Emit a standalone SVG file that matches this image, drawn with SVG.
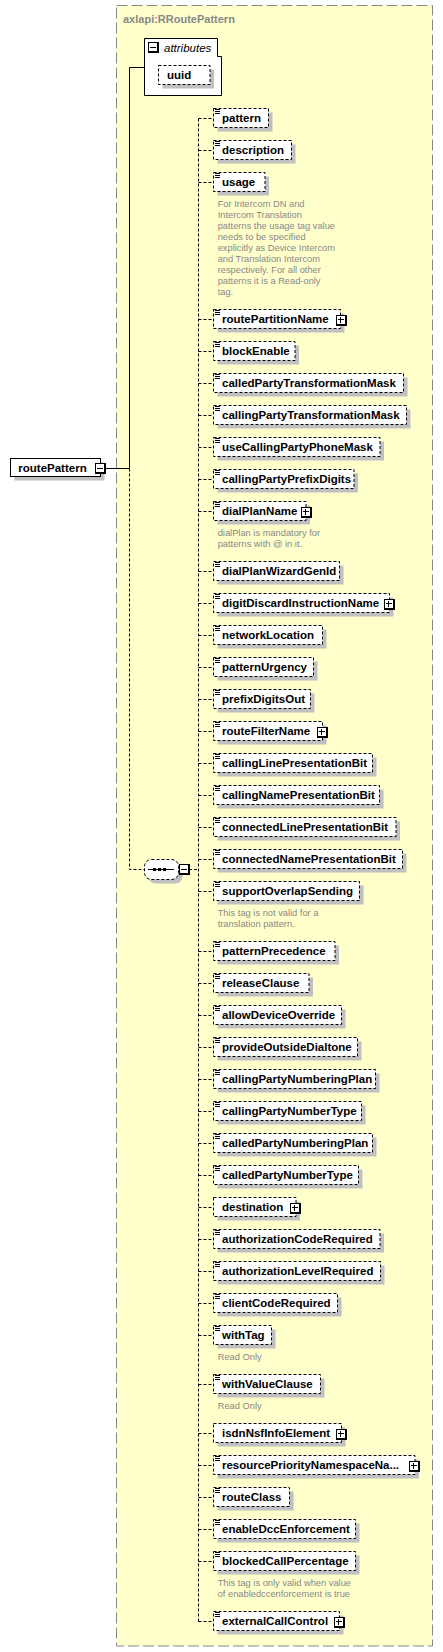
<svg xmlns="http://www.w3.org/2000/svg" width="443" height="1652" viewBox="0 0 443 1652">
<style>
.frame{fill:#ffffcc;stroke:#888;stroke-width:1;stroke-dasharray:11 4}
.title{font-family:"Liberation Sans",Arial,sans-serif;font-size:11px;font-weight:bold;fill:#888}
.sh{fill:#c0c0c0}
.el{fill:#fff;stroke:#000;stroke-width:1;stroke-dasharray:3 2}
.sol{fill:#fff;stroke:#000;stroke-width:1}
.ic{stroke:#000;stroke-width:1;fill:none}
.t{font-family:"Liberation Sans",Arial,sans-serif;font-size:11.5px;font-weight:bold;fill:#000}
.it{font-family:"Liberation Sans",Arial,sans-serif;font-size:11.5px;font-style:italic;fill:#000}
.cm{font-family:"Liberation Sans",Arial,sans-serif;font-size:9.3px;fill:#888}
.pk{fill:#000}
.pw{fill:#fff}
.ln{stroke:#000;stroke-width:1;fill:none}
.dl{stroke:#000;stroke-width:1;fill:none;stroke-dasharray:3 2}
</style>
<rect class="frame" x="116.5" y="5.5" width="316" height="1640.5"/>
<text class="title" x="123" y="22.5">axlapi:RRoutePattern</text>

<g id="connectors">
<path class="ln" d="M106 468.5H129.5M129.5 67.5V468.5M129.5 67.5H144.5"/>
<path class="dl" d="M129.5 468.5V869.5H144.5M189 869.5H198.5M198.5 118.5V1621.5"/>
<path class="dl" d="M198.5 118.5H213M198.5 150.5H213M198.5 182.5H213M198.5 319.5H213M198.5 351.5H213M198.5 383.5H213M198.5 415.5H213M198.5 447.5H213M198.5 479.5H213M198.5 511.5H213M198.5 571.5H213M198.5 603.5H213M198.5 635.5H213M198.5 667.5H213M198.5 699.5H213M198.5 731.5H213M198.5 763.5H213M198.5 795.5H213M198.5 827.5H213M198.5 859.5H213M198.5 891.5H213M198.5 951.5H213M198.5 983.5H213M198.5 1015.5H213M198.5 1047.5H213M198.5 1079.5H213M198.5 1111.5H213M198.5 1143.5H213M198.5 1175.5H213M198.5 1207.5H213M198.5 1239.5H213M198.5 1271.5H213M198.5 1303.5H213M198.5 1335.5H213M198.5 1384.5H213M198.5 1433.5H213M198.5 1465.5H213M198.5 1497.5H213M198.5 1529.5H213M198.5 1561.5H213M198.5 1621.5H213"/>
</g>

<g id="routePattern">
<rect class="sh" x="14.5" y="462.5" width="90" height="18"/>
<rect class="sol" x="10.5" y="458.5" width="90" height="18"/>
<text class="t" x="18.3" y="472">routePattern</text>
<rect class="pk" x="95" y="463" width="11" height="11"/>
<rect class="pw" x="96" y="464" width="8" height="8"/>
<path class="ic" d="M97 468.5h6"/>
</g>

<g id="attributes">
<path class="sol" d="M144.5 38.5H217.5V56.5H221.5V95.5H144.5Z"/>
<rect class="pk" x="148" y="42" width="11" height="11"/>
<rect class="pw" x="149" y="43" width="8" height="8"/>
<path class="ic" d="M150 47.5h6"/>
<text class="it" x="164" y="52">attributes</text>
</g>
<g id="uuid">
<rect class="sh" x="162.5" y="69.5" width="51.5" height="19"/>
<rect class="el" x="158.5" y="65.5" width="51.5" height="19"/>
<text class="t" x="167" y="78.5">uuid</text>
</g>

<g id="sequence">
<rect class="sh" x="148.5" y="863.5" width="34" height="20" rx="7"/>
<rect class="el" x="144.5" y="859.5" width="34" height="20" rx="7"/>
<path class="ic" d="M148 869.5H174"/>
<rect class="pk" x="153" y="868" width="3" height="3"/>
<rect class="pk" x="158" y="868" width="3" height="3"/>
<rect class="pk" x="163" y="868" width="3" height="3"/>
<rect class="pk" x="179" y="864" width="11" height="11"/>
<rect class="pw" x="180" y="865" width="8" height="8"/>
<path class="ic" d="M181 869.5h6"/>
</g>

<g id="pattern" transform="translate(0,118)"><rect class="sh" x="217.5" y="-5.5" width="55" height="19"/><rect class="el" x="213.5" y="-9.5" width="55" height="19"/><path class="ic" d="M215 -8.5h5M215 -6.5h5M215 -4.5h5"/><text class="t" x="222" y="4">pattern</text></g>
<g id="description" transform="translate(0,150)"><rect class="sh" x="217.5" y="-5.5" width="78" height="19"/><rect class="el" x="213.5" y="-9.5" width="78" height="19"/><path class="ic" d="M215 -8.5h5M215 -6.5h5M215 -4.5h5"/><text class="t" x="222" y="4">description</text></g>
<g id="usage" transform="translate(0,182)"><rect class="sh" x="217.5" y="-5.5" width="51.5" height="19"/><rect class="el" x="213.5" y="-9.5" width="51.5" height="19"/><path class="ic" d="M215 -8.5h5M215 -6.5h5M215 -4.5h5"/><text class="t" x="222" y="4">usage</text>
<text class="cm" x="217.7" y="24.5">For Intercom DN and</text>
<text class="cm" x="217.7" y="35.5">Intercom Translation</text>
<text class="cm" x="217.7" y="46.5">patterns the usage tag value</text>
<text class="cm" x="217.7" y="57.5">needs to be specified</text>
<text class="cm" x="217.7" y="68.5">explicitly as Device Intercom</text>
<text class="cm" x="217.7" y="79.5">and Translation Intercom</text>
<text class="cm" x="217.7" y="90.5">respectively. For all other</text>
<text class="cm" x="217.7" y="101.5">patterns it is a Read-only</text>
<text class="cm" x="217.7" y="112.5">tag.</text></g>
<g id="routePartitionName" transform="translate(0,319)"><rect class="sh" x="217.5" y="-5.5" width="127" height="19"/><rect class="el" x="213.5" y="-9.5" width="127" height="19"/><path class="ic" d="M215 -8.5h5M215 -6.5h5M215 -4.5h5"/><text class="t" x="222" y="4">routePartitionName</text><rect class="pk" x="336" y="-4" width="11" height="11"/><rect class="pw" x="337" y="-3" width="8" height="8"/><path class="ic" d="M338 0.5h6M340.5 -2v6"/></g>
<g id="blockEnable" transform="translate(0,351)"><rect class="sh" x="217.5" y="-5.5" width="81.5" height="19"/><rect class="el" x="213.5" y="-9.5" width="81.5" height="19"/><path class="ic" d="M215 -8.5h5M215 -6.5h5M215 -4.5h5"/><text class="t" x="222" y="4">blockEnable</text></g>
<g id="calledPartyTransformationMask" transform="translate(0,383)"><rect class="sh" x="217.5" y="-5.5" width="190" height="19"/><rect class="el" x="213.5" y="-9.5" width="190" height="19"/><path class="ic" d="M215 -8.5h5M215 -6.5h5M215 -4.5h5"/><text class="t" x="222" y="4">calledPartyTransformationMask</text></g>
<g id="callingPartyTransformationMask" transform="translate(0,415)"><rect class="sh" x="217.5" y="-5.5" width="193" height="19"/><rect class="el" x="213.5" y="-9.5" width="193" height="19"/><path class="ic" d="M215 -8.5h5M215 -6.5h5M215 -4.5h5"/><text class="t" x="222" y="4">callingPartyTransformationMask</text></g>
<g id="useCallingPartyPhoneMask" transform="translate(0,447)"><rect class="sh" x="217.5" y="-5.5" width="166.5" height="19"/><rect class="el" x="213.5" y="-9.5" width="166.5" height="19"/><path class="ic" d="M215 -8.5h5M215 -6.5h5M215 -4.5h5"/><text class="t" x="222" y="4">useCallingPartyPhoneMask</text></g>
<g id="callingPartyPrefixDigits" transform="translate(0,479)"><rect class="sh" x="217.5" y="-5.5" width="140.5" height="19"/><rect class="el" x="213.5" y="-9.5" width="140.5" height="19"/><path class="ic" d="M215 -8.5h5M215 -6.5h5M215 -4.5h5"/><text class="t" x="222" y="4">callingPartyPrefixDigits</text></g>
<g id="dialPlanName" transform="translate(0,511)"><rect class="sh" x="217.5" y="-5.5" width="92.5" height="19"/><rect class="el" x="213.5" y="-9.5" width="92.5" height="19"/><path class="ic" d="M215 -8.5h5M215 -6.5h5M215 -4.5h5"/><text class="t" x="222" y="4">dialPlanName</text><rect class="pk" x="301" y="-4" width="11" height="11"/><rect class="pw" x="302" y="-3" width="8" height="8"/><path class="ic" d="M303 0.5h6M305.5 -2v6"/>
<text class="cm" x="217.7" y="24.5">dialPlan is mandatory for</text>
<text class="cm" x="217.7" y="35.5">patterns with @ in it.</text></g>
<g id="dialPlanWizardGenId" transform="translate(0,571)"><rect class="sh" x="217.5" y="-5.5" width="126" height="19"/><rect class="el" x="213.5" y="-9.5" width="126" height="19"/><path class="ic" d="M215 -8.5h5M215 -6.5h5M215 -4.5h5"/><text class="t" x="222" y="4">dialPlanWizardGenId</text></g>
<g id="digitDiscardInstructionName" transform="translate(0,603)"><rect class="sh" x="217.5" y="-5.5" width="176" height="19"/><rect class="el" x="213.5" y="-9.5" width="176" height="19"/><path class="ic" d="M215 -8.5h5M215 -6.5h5M215 -4.5h5"/><text class="t" x="222" y="4">digitDiscardInstructionName</text><rect class="pk" x="384" y="-4" width="11" height="11"/><rect class="pw" x="385" y="-3" width="8" height="8"/><path class="ic" d="M386 0.5h6M388.5 -2v6"/></g>
<g id="networkLocation" transform="translate(0,635)"><rect class="sh" x="217.5" y="-5.5" width="109" height="19"/><rect class="el" x="213.5" y="-9.5" width="109" height="19"/><path class="ic" d="M215 -8.5h5M215 -6.5h5M215 -4.5h5"/><text class="t" x="222" y="4">networkLocation</text></g>
<g id="patternUrgency" transform="translate(0,667)"><rect class="sh" x="217.5" y="-5.5" width="100" height="19"/><rect class="el" x="213.5" y="-9.5" width="100" height="19"/><path class="ic" d="M215 -8.5h5M215 -6.5h5M215 -4.5h5"/><text class="t" x="222" y="4">patternUrgency</text></g>
<g id="prefixDigitsOut" transform="translate(0,699)"><rect class="sh" x="217.5" y="-5.5" width="97" height="19"/><rect class="el" x="213.5" y="-9.5" width="97" height="19"/><path class="ic" d="M215 -8.5h5M215 -6.5h5M215 -4.5h5"/><text class="t" x="222" y="4">prefixDigitsOut</text></g>
<g id="routeFilterName" transform="translate(0,731)"><rect class="sh" x="217.5" y="-5.5" width="109" height="19"/><rect class="el" x="213.5" y="-9.5" width="109" height="19"/><path class="ic" d="M215 -8.5h5M215 -6.5h5M215 -4.5h5"/><text class="t" x="222" y="4">routeFilterName</text><rect class="pk" x="317" y="-4" width="11" height="11"/><rect class="pw" x="318" y="-3" width="8" height="8"/><path class="ic" d="M319 0.5h6M321.5 -2v6"/></g>
<g id="callingLinePresentationBit" transform="translate(0,763)"><rect class="sh" x="217.5" y="-5.5" width="159" height="19"/><rect class="el" x="213.5" y="-9.5" width="159" height="19"/><path class="ic" d="M215 -8.5h5M215 -6.5h5M215 -4.5h5"/><text class="t" x="222" y="4">callingLinePresentationBit</text></g>
<g id="callingNamePresentationBit" transform="translate(0,795)"><rect class="sh" x="217.5" y="-5.5" width="166" height="19"/><rect class="el" x="213.5" y="-9.5" width="166" height="19"/><path class="ic" d="M215 -8.5h5M215 -6.5h5M215 -4.5h5"/><text class="t" x="222" y="4">callingNamePresentationBit</text></g>
<g id="connectedLinePresentationBit" transform="translate(0,827)"><rect class="sh" x="217.5" y="-5.5" width="182.5" height="19"/><rect class="el" x="213.5" y="-9.5" width="182.5" height="19"/><path class="ic" d="M215 -8.5h5M215 -6.5h5M215 -4.5h5"/><text class="t" x="222" y="4">connectedLinePresentationBit</text></g>
<g id="connectedNamePresentationBit" transform="translate(0,859)"><rect class="sh" x="217.5" y="-5.5" width="189" height="19"/><rect class="el" x="213.5" y="-9.5" width="189" height="19"/><path class="ic" d="M215 -8.5h5M215 -6.5h5M215 -4.5h5"/><text class="t" x="222" y="4">connectedNamePresentationBit</text></g>
<g id="supportOverlapSending" transform="translate(0,891)"><rect class="sh" x="217.5" y="-5.5" width="146" height="19"/><rect class="el" x="213.5" y="-9.5" width="146" height="19"/><path class="ic" d="M215 -8.5h5M215 -6.5h5M215 -4.5h5"/><text class="t" x="222" y="4">supportOverlapSending</text>
<text class="cm" x="217.7" y="24.5">This tag is not valid for a</text>
<text class="cm" x="217.7" y="35.5">translation pattern.</text></g>
<g id="patternPrecedence" transform="translate(0,951)"><rect class="sh" x="217.5" y="-5.5" width="121.5" height="19"/><rect class="el" x="213.5" y="-9.5" width="121.5" height="19"/><path class="ic" d="M215 -8.5h5M215 -6.5h5M215 -4.5h5"/><text class="t" x="222" y="4">patternPrecedence</text></g>
<g id="releaseClause" transform="translate(0,983)"><rect class="sh" x="217.5" y="-5.5" width="95.5" height="19"/><rect class="el" x="213.5" y="-9.5" width="95.5" height="19"/><path class="ic" d="M215 -8.5h5M215 -6.5h5M215 -4.5h5"/><text class="t" x="222" y="4">releaseClause</text></g>
<g id="allowDeviceOverride" transform="translate(0,1015)"><rect class="sh" x="217.5" y="-5.5" width="128" height="19"/><rect class="el" x="213.5" y="-9.5" width="128" height="19"/><path class="ic" d="M215 -8.5h5M215 -6.5h5M215 -4.5h5"/><text class="t" x="222" y="4">allowDeviceOverride</text></g>
<g id="provideOutsideDialtone" transform="translate(0,1047)"><rect class="sh" x="217.5" y="-5.5" width="144" height="19"/><rect class="el" x="213.5" y="-9.5" width="144" height="19"/><path class="ic" d="M215 -8.5h5M215 -6.5h5M215 -4.5h5"/><text class="t" x="222" y="4">provideOutsideDialtone</text></g>
<g id="callingPartyNumberingPlan" transform="translate(0,1079)"><rect class="sh" x="217.5" y="-5.5" width="162" height="19"/><rect class="el" x="213.5" y="-9.5" width="162" height="19"/><path class="ic" d="M215 -8.5h5M215 -6.5h5M215 -4.5h5"/><text class="t" x="222" y="4">callingPartyNumberingPlan</text></g>
<g id="callingPartyNumberType" transform="translate(0,1111)"><rect class="sh" x="217.5" y="-5.5" width="148" height="19"/><rect class="el" x="213.5" y="-9.5" width="148" height="19"/><path class="ic" d="M215 -8.5h5M215 -6.5h5M215 -4.5h5"/><text class="t" x="222" y="4">callingPartyNumberType</text></g>
<g id="calledPartyNumberingPlan" transform="translate(0,1143)"><rect class="sh" x="217.5" y="-5.5" width="159" height="19"/><rect class="el" x="213.5" y="-9.5" width="159" height="19"/><path class="ic" d="M215 -8.5h5M215 -6.5h5M215 -4.5h5"/><text class="t" x="222" y="4">calledPartyNumberingPlan</text></g>
<g id="calledPartyNumberType" transform="translate(0,1175)"><rect class="sh" x="217.5" y="-5.5" width="145" height="19"/><rect class="el" x="213.5" y="-9.5" width="145" height="19"/><path class="ic" d="M215 -8.5h5M215 -6.5h5M215 -4.5h5"/><text class="t" x="222" y="4">calledPartyNumberType</text></g>
<g id="destination" transform="translate(0,1207)"><rect class="sh" x="217.5" y="-5.5" width="82.5" height="19"/><rect class="el" x="213.5" y="-9.5" width="82.5" height="19"/><text class="t" x="222" y="4">destination</text><rect class="pk" x="290" y="-4" width="11" height="11"/><rect class="pw" x="291" y="-3" width="8" height="8"/><path class="ic" d="M292 0.5h6M294.5 -2v6"/></g>
<g id="authorizationCodeRequired" transform="translate(0,1239)"><rect class="sh" x="217.5" y="-5.5" width="166.5" height="19"/><rect class="el" x="213.5" y="-9.5" width="166.5" height="19"/><path class="ic" d="M215 -8.5h5M215 -6.5h5M215 -4.5h5"/><text class="t" x="222" y="4">authorizationCodeRequired</text></g>
<g id="authorizationLevelRequired" transform="translate(0,1271)"><rect class="sh" x="217.5" y="-5.5" width="167" height="19"/><rect class="el" x="213.5" y="-9.5" width="167" height="19"/><path class="ic" d="M215 -8.5h5M215 -6.5h5M215 -4.5h5"/><text class="t" x="222" y="4">authorizationLevelRequired</text></g>
<g id="clientCodeRequired" transform="translate(0,1303)"><rect class="sh" x="217.5" y="-5.5" width="124" height="19"/><rect class="el" x="213.5" y="-9.5" width="124" height="19"/><path class="ic" d="M215 -8.5h5M215 -6.5h5M215 -4.5h5"/><text class="t" x="222" y="4">clientCodeRequired</text></g>
<g id="withTag" transform="translate(0,1335)"><rect class="sh" x="217.5" y="-5.5" width="58" height="19"/><rect class="el" x="213.5" y="-9.5" width="58" height="19"/><path class="ic" d="M215 -8.5h5M215 -6.5h5M215 -4.5h5"/><text class="t" x="222" y="4">withTag</text>
<text class="cm" x="217.7" y="24.5">Read Only</text></g>
<g id="withValueClause" transform="translate(0,1384)"><rect class="sh" x="217.5" y="-5.5" width="107" height="19"/><rect class="el" x="213.5" y="-9.5" width="107" height="19"/><path class="ic" d="M215 -8.5h5M215 -6.5h5M215 -4.5h5"/><text class="t" x="222" y="4">withValueClause</text>
<text class="cm" x="217.7" y="24.5">Read Only</text></g>
<g id="isdnNsfInfoElement" transform="translate(0,1433)"><rect class="sh" x="217.5" y="-5.5" width="128" height="19"/><rect class="el" x="213.5" y="-9.5" width="128" height="19"/><text class="t" x="222" y="4">isdnNsfInfoElement</text><rect class="pk" x="336" y="-4" width="11" height="11"/><rect class="pw" x="337" y="-3" width="8" height="8"/><path class="ic" d="M338 0.5h6M340.5 -2v6"/></g>
<g id="resourcePriorityNamespaceName" transform="translate(0,1465)"><rect class="sh" x="217.5" y="-5.5" width="201.5" height="19"/><rect class="el" x="213.5" y="-9.5" width="201.5" height="19"/><path class="ic" d="M215 -8.5h5M215 -6.5h5M215 -4.5h5"/><text class="t" x="222" y="4">resourcePriorityNamespaceNa...</text><rect class="pk" x="409" y="-4" width="11" height="11"/><rect class="pw" x="410" y="-3" width="8" height="8"/><path class="ic" d="M411 0.5h6M413.5 -2v6"/></g>
<g id="routeClass" transform="translate(0,1497)"><rect class="sh" x="217.5" y="-5.5" width="76" height="19"/><rect class="el" x="213.5" y="-9.5" width="76" height="19"/><path class="ic" d="M215 -8.5h5M215 -6.5h5M215 -4.5h5"/><text class="t" x="222" y="4">routeClass</text></g>
<g id="enableDccEnforcement" transform="translate(0,1529)"><rect class="sh" x="217.5" y="-5.5" width="142" height="19"/><rect class="el" x="213.5" y="-9.5" width="142" height="19"/><path class="ic" d="M215 -8.5h5M215 -6.5h5M215 -4.5h5"/><text class="t" x="222" y="4">enableDccEnforcement</text></g>
<g id="blockedCallPercentage" transform="translate(0,1561)"><rect class="sh" x="217.5" y="-5.5" width="142" height="19"/><rect class="el" x="213.5" y="-9.5" width="142" height="19"/><path class="ic" d="M215 -8.5h5M215 -6.5h5M215 -4.5h5"/><text class="t" x="222" y="4">blockedCallPercentage</text>
<text class="cm" x="217.7" y="24.5">This tag is only valid when value</text>
<text class="cm" x="217.7" y="35.5">of enabledccenforcement is true</text></g>
<g id="externalCallControl" transform="translate(0,1621)"><rect class="sh" x="217.5" y="-5.5" width="126" height="19"/><rect class="el" x="213.5" y="-9.5" width="126" height="19"/><path class="ic" d="M215 -8.5h5M215 -6.5h5M215 -4.5h5"/><text class="t" x="222" y="4">externalCallControl</text><rect class="pk" x="334" y="-4" width="11" height="11"/><rect class="pw" x="335" y="-3" width="8" height="8"/><path class="ic" d="M336 0.5h6M338.5 -2v6"/></g>
</svg>
